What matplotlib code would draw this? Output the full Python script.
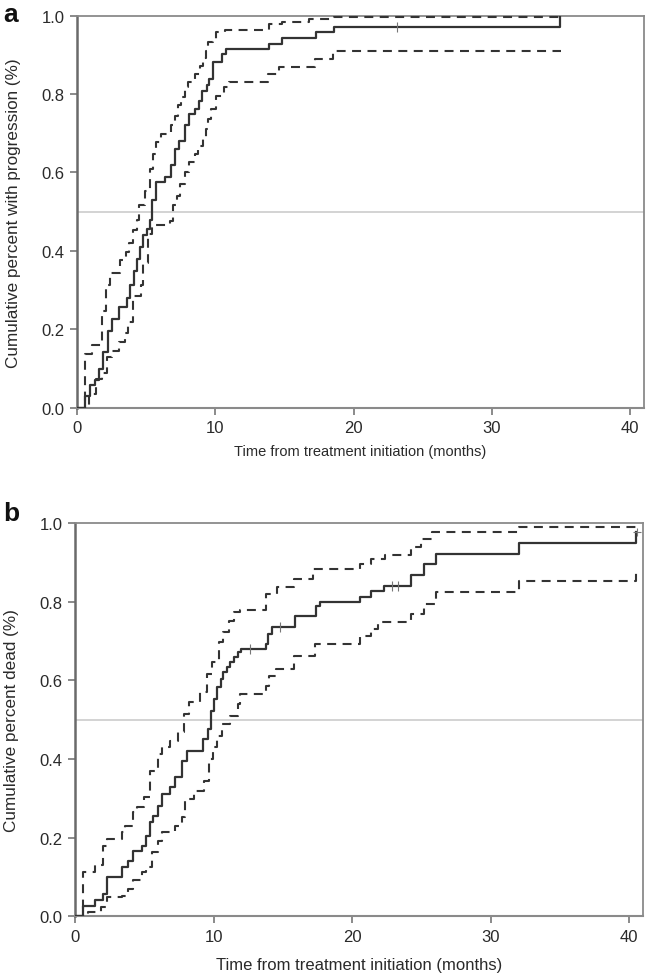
import numpy as np
import matplotlib
matplotlib.use("Agg")
import matplotlib.pyplot as plt

plt.rcParams['font.family'] = ['Liberation Sans', 'DejaVu Sans']

# ---- panel a : progression ----
a_t = [0, 0.58, 0.94, 1.3, 1.6, 1.9, 2.2, 2.5, 3.0, 3.6, 3.8, 4.1, 4.3, 4.55, 4.8, 5.05, 5.3, 5.45,
       5.73, 6.33, 6.8, 7.1, 7.4, 7.8, 8.1, 8.5, 8.8, 9.04, 9.4, 9.57, 9.8, 10.5, 10.8, 13.9, 14.85,
       17.3, 18.6, 34.9]
a_v = [0, 0.03, 0.057, 0.071, 0.098, 0.143, 0.197, 0.227, 0.257, 0.28, 0.312, 0.35, 0.38, 0.41, 0.44,
       0.457, 0.48, 0.53, 0.575, 0.588, 0.618, 0.66, 0.681, 0.72, 0.749, 0.762, 0.783, 0.809, 0.822,
       0.839, 0.881, 0.902, 0.915, 0.928, 0.943, 0.958, 0.97, 1.0]

a_up_t = [0, 0.58, 1.05, 1.78, 2.1, 2.37, 3.1, 3.5, 3.75, 4.05, 4.3, 4.45, 4.9, 5.25, 5.5, 5.73, 6.1,
          6.8, 7.05, 7.29, 7.53, 7.77, 8.0, 8.5, 8.85, 9.09, 9.33, 9.45, 9.8, 10.05, 10.7, 13.9, 14.85,
          16.8, 18.6, 35.0]
a_up_v = [0, 0.138, 0.161, 0.248, 0.312, 0.345, 0.376, 0.397, 0.42, 0.453, 0.48, 0.516, 0.554, 0.609,
          0.647, 0.677, 0.698, 0.72, 0.745, 0.771, 0.792, 0.817, 0.83, 0.851, 0.872, 0.893, 0.911,
          0.932, 0.94, 0.958, 0.964, 0.979, 0.983, 0.991, 0.997, 0.997]

a_lo_t = [0, 0.88, 1.4, 1.78, 2.13, 2.5, 3.0, 3.45, 3.65, 4.05, 4.65, 4.8, 5.13, 5.44, 6.7, 6.93, 7.2,
          7.45, 7.77, 8.1, 8.5, 8.75, 9.1, 9.35, 9.45, 9.7, 10.05, 10.6, 11.0, 13.8, 14.6, 17.2, 18.5,
          35.0]
a_lo_v = [0, 0.036, 0.074, 0.09, 0.13, 0.146, 0.168, 0.19, 0.218, 0.286, 0.312, 0.37, 0.443, 0.465,
          0.477, 0.516, 0.541, 0.57, 0.6, 0.626, 0.647, 0.668, 0.69, 0.71, 0.737, 0.762, 0.794, 0.817,
          0.832, 0.85, 0.868, 0.89, 0.91, 0.91]

a_cens_t = [23.1]
a_cens_v = [0.97]

# ---- panel b : death ----
b_t = [0, 0.53, 1.43, 2.03, 2.27, 3.36, 3.8, 4.2, 4.8, 5.1, 5.41, 5.65, 6.0, 6.3, 6.86, 7.22, 7.7,
       8.07, 9.2, 9.57, 9.8, 10.0, 10.25, 10.5, 10.7, 10.97, 11.2, 11.45, 11.74, 11.98, 13.75, 13.9,
       14.2, 15.85, 17.37, 17.66, 20.6, 21.4, 22.3, 24.25, 25.2, 26.07, 32.06, 40.5]
b_v = [0, 0.027, 0.042, 0.057, 0.10, 0.125, 0.141, 0.167, 0.18, 0.205, 0.239, 0.256, 0.281, 0.311,
       0.328, 0.354, 0.396, 0.421, 0.451, 0.477, 0.523, 0.553, 0.583, 0.604, 0.621, 0.634, 0.646,
       0.659, 0.672, 0.68, 0.693, 0.718, 0.735, 0.765, 0.79, 0.799, 0.812, 0.828, 0.841, 0.868,
       0.896, 0.922, 0.949, 0.977]

b_up_t = [0, 0.58, 1.43, 2.03, 2.27, 3.36, 3.6, 4.2, 4.45, 4.98, 5.41, 6.0, 6.3, 6.86, 7.46, 7.83,
          8.19, 9.04, 9.52, 9.88, 10.36, 10.7, 11.09, 11.45, 11.93, 13.75, 14.6, 15.8, 17.2, 20.6,
          21.4, 22.4, 24.25, 24.97, 25.8, 32.06, 40.5]
b_up_v = [0, 0.112, 0.13, 0.18, 0.197, 0.214, 0.23, 0.265, 0.279, 0.303, 0.37, 0.413, 0.43, 0.447,
          0.468, 0.515, 0.545, 0.57, 0.617, 0.646, 0.697, 0.723, 0.752, 0.773, 0.779, 0.82, 0.837,
          0.858, 0.884, 0.896, 0.909, 0.918, 0.939, 0.96, 0.977, 0.99, 1.0]

b_lo_t = [0, 0.9, 1.9, 2.27, 3.36, 3.84, 4.2, 4.8, 5.1, 5.53, 6.0, 6.3, 7.22, 7.7, 7.95, 8.55, 9.28,
          9.64, 9.93, 10.25, 10.6, 11.2, 11.74, 11.93, 13.75, 13.98, 14.47, 15.8, 17.3, 20.6, 21.35,
          21.9, 24.25, 25.2, 26.07, 32.06, 40.5]
b_lo_v = [0, 0.01, 0.023, 0.048, 0.052, 0.069, 0.092, 0.112, 0.125, 0.163, 0.192, 0.214, 0.23, 0.252,
          0.298, 0.32, 0.345, 0.40, 0.43, 0.46, 0.489, 0.51, 0.54, 0.566, 0.587, 0.612, 0.629, 0.663,
          0.693, 0.714, 0.731, 0.748, 0.769, 0.795, 0.824, 0.854, 0.884]

b_cens_t = [12.6, 14.8, 22.9, 23.3]
b_cens_v = [0.68, 0.735, 0.841, 0.841]

yticks = [0.0, 0.2, 0.4, 0.6, 0.8, 1.0]
xticks = [0, 10, 20, 30, 40]

line_col = '#333333'
dash = (0, (4.3, 3.1))

fig = plt.figure(figsize=(6.48, 9.78), dpi=100)
ax_a = fig.add_axes([0.119, 0.582, 0.875, 0.401])
ax_b = fig.add_axes([0.116, 0.062, 0.876, 0.402])


def draw_panel(ax, t, v, up_t, up_v, lo_t, lo_v, ct, cv, ylabel, letter,
               xlab_size, xlab_y, letter_xy):
    ax.axhline(0.5, color='#d0d0d0', lw=1.3, zorder=1)
    ax.plot(up_t, up_v, drawstyle='steps-post', color=line_col, lw=1.5, linestyle=dash, zorder=3)
    ax.plot(lo_t, lo_v, drawstyle='steps-post', color=line_col, lw=1.5, linestyle=dash, zorder=3)
    ax.plot(t, v, drawstyle='steps-post', color=line_col, lw=1.6, zorder=4)
    ax.plot(ct, cv, linestyle='none', marker='|', ms=7, mew=0.8, color='#777777', zorder=5)
    ax.set_xlim(0, 41)
    ax.set_ylim(0, 1.0)
    ax.set_yticks(yticks)
    ax.set_yticklabels(['%.1f' % y for y in yticks])
    ax.set_xticks(xticks)
    ax.tick_params(axis='both', labelsize=12, colors='#2a2a2a', length=5, width=1.2,
                   pad=4, color='#777777')
    ax.spines['left'].set_color('#6a6a6a')
    ax.spines['left'].set_linewidth(1.8)
    ax.spines['bottom'].set_color('#8a8a8a')
    ax.spines['bottom'].set_linewidth(1.5)
    for s in ['top', 'right']:
        ax.spines[s].set_color('#8a8a8a')
        ax.spines[s].set_linewidth(1.3)
    ax.set_ylabel(ylabel, fontsize=12.3, color='#2a2a2a')
    ax.yaxis.set_label_coords(-0.099, 0.5)
    ax.set_xlabel('Time from treatment initiation (months)', fontsize=xlab_size, color='#2a2a2a')
    ax.xaxis.set_label_coords(0.5, xlab_y)
    ax.text(letter_xy[0], letter_xy[1], letter, transform=ax.transAxes, fontsize=19,
            fontweight='bold', ha='center', va='center', color='#111111')


draw_panel(ax_a, a_t, a_v, a_up_t, a_up_v, a_lo_t, a_lo_v, a_cens_t, a_cens_v,
           'Cumulative percent with progression (%)', 'a', 10.5, -0.093, (-0.117, 1.005))
draw_panel(ax_b, b_t, b_v, b_up_t, b_up_v, b_lo_t, b_lo_v, b_cens_t, b_cens_v,
           'Cumulative percent dead (%)', 'b', 12, -0.103, (-0.113, 1.025))
# last censored patient in panel b shown with a plus
ax_b.plot([40.6], [0.977], linestyle='none', marker='+', ms=6, mew=0.8, color='#777777', zorder=5)

fig.savefig('out.png', dpi=100)
